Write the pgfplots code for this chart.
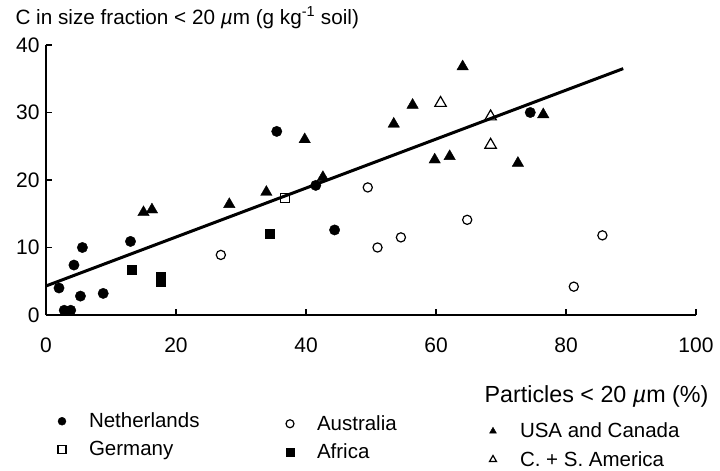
\documentclass[border=0pt]{standalone}
\usepackage{fontspec}
\setmainfont{Liberation Sans}
\usepackage{pgfplots}
\pgfplotsset{compat=1.18}
\newcommand{\um}{{\itshape µ}m}
\newcommand{\txt}{\fontsize{20.5bp}{24bp}\selectfont}
\newcommand{\low}[2]{\raisebox{-#1}[0.73em][0.21em]{#2}}
\begin{document}
\begin{tikzpicture}
\path[use as bounding box] (0,0) rectangle (720bp,471bp);
\begin{axis}[
  at={(46bp,156bp)}, anchor=south west,
  scale only axis, width=650bp, height=270bp,
  xmin=0, xmax=100, ymin=0, ymax=40, enlargelimits=false,
  axis lines=left, axis line style={-, line width=1.8bp},
  xtick={0,20,...,100}, ytick={0,10,...,40},
  tick align=inside, major tick length=6bp,
  tick style={black, line width=1.2bp},
  /pgf/number format/assume math mode=true,
  ticklabel style={font=\fontsize{21bp}{24bp}\selectfont},
  xticklabel style={yshift=-19bp},
  yticklabel style={xshift=-3bp},
  xlabel={Particles < 20 \um\ (\%)},
  xlabel style={at={(axis description cs:1,0)}, anchor=base east, xshift=16bp, yshift=-87bp, font=\fontsize{23.3bp}{27bp}\selectfont},
  ylabel={C in size fraction < 20 \um\ (g kg\textsuperscript{-1} soil)},
  ylabel style={rotate=-90, at={(axis description cs:0,1)}, anchor=base west, xshift=-34bp, yshift=21bp, font=\fontsize{20.7bp}{24bp}\selectfont},
  legend columns=3,
  legend cell align=left,
  legend style={draw=none, fill=none, at={(axis description cs:0.01846,-0.363)}, anchor=north west, inner sep=0pt, outer sep=0pt, row sep=8bp, column sep=0pt, nodes={inner sep=0pt}, font=\txt},
  legend image code/.code={\path[draw=none, fill=none] (-4bp,0) -- (27bp,0); \draw[#1, mark size=4bp] plot coordinates {(0bp,0bp)};},
]
% regression line
\addplot[black, line width=3bp, forget plot] coordinates {(0,4.3) (88.8,36.5)};
% Netherlands
\addplot[only marks, mark=*, mark size=5.2bp, black, fill=black] coordinates {
(2,4) (2.8,0.7) (3.8,0.7) (5.3,2.8) (8.8,3.2) (4.3,7.4) (5.6,10.0) (13.0,10.9)
(35.5,27.2) (41.5,19.2) (44.4,12.6) (74.5,30.0)};
\addlegendentry{\makebox[197bp][l]{\vphantom{Ag}Netherlands}}
% Australia
\addplot[only marks, mark=o, mark size=4.6bp, black, mark options={line width=1.2bp, fill=white},
  legend image post style={yshift=-2.5bp}] coordinates {
(26.9,8.9) (49.5,18.9) (51.0,10.0) (54.6,11.5) (64.8,14.1) (85.6,11.8) (81.2,4.2)};
\addlegendentry{\makebox[172bp][l]{\low{2.5bp}{\vphantom{Ag}Australia}}}
% USA and Canada
\addplot[only marks, mark=triangle*, mark size=6.6bp, black, fill=black,
  legend image post style={yshift=-10bp}] coordinates {
(15.0,15.2) (16.3,15.6) (28.2,16.4) (33.9,18.2) (39.8,26.0) (42.6,20.4) (53.5,28.3)
(56.4,31.1) (64.1,36.8) (59.8,23.0) (62.1,23.5) (72.6,22.5) (76.5,29.7)};
\addlegendentry{\low{10bp}{\vphantom{Ag}USA and Canada}}
% Germany
\addplot[only marks, mark=square, mark size=4.6bp, black, mark options={line width=1.2bp, fill=white}] coordinates {
(36.8,17.3)};
\addlegendentry{\makebox[197bp][l]{\vphantom{Ag}Germany}}
% Africa
\addplot[only marks, mark=square*, mark size=4.6bp, black, fill=black,
  legend image post style={yshift=-2.5bp}] coordinates {
(13.2,6.7) (17.7,4.9) (17.7,5.7) (34.4,12.1)};
\addlegendentry{\makebox[172bp][l]{\low{2.5bp}{\vphantom{Ag}Africa}}}
% C. + S. America
\addplot[only marks, mark=triangle, mark size=6.6bp, black, mark options={line width=1.2bp, fill=white},
  legend image post style={yshift=-10bp}] coordinates {
(60.7,31.4) (68.4,29.4) (68.4,25.2)};
\addlegendentry{\low{10bp}{\vphantom{Ag}C. + S. America}}
\end{axis}
\end{tikzpicture}
\end{document}
